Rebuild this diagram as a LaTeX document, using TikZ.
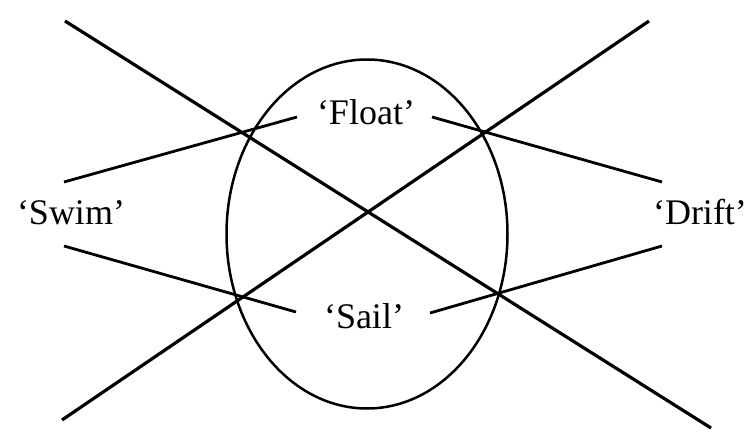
\documentclass[tikz,border=0pt]{standalone}
\usepackage{fontspec}
\setmainfont{Liberation Serif}
\usetikzlibrary{shapes.geometric}
\begin{document}
\begin{tikzpicture}[x=1pt,y=-1pt,
  longline/.style={line width=3.2pt},
  shortline/.style={line width=2.8pt},
  ringline/.style={line width=2.5pt},
  lbl/.style={anchor=base,inner sep=0pt,font=\fontsize{36}{40}\selectfont}]
\useasboundingbox (0,0) rectangle (753,433);
% labels
\node[lbl] (float) at (366,125) {‘Float’};
\node[lbl] (sail) at (364,328) {‘Sail’};
\node[lbl] (swim) at (71,225) {‘Swim’};
\node[lbl] (drift) at (700,225) {‘Drift’};
% ellipse
\node[draw,ringline,ellipse,minimum width=281pt,minimum height=349pt,inner sep=0pt] (ring) at (367,234) {};
% long crossing lines
\coordinate (a1) at (65,21);
\coordinate (a2) at (711,428);
\coordinate (b1) at (62,420);
\coordinate (b2) at (649,21);
\draw[longline] (a1) -- (a2);
\draw[longline] (b1) -- (b2);
% short lines
\coordinate (fl1) at (64,182);
\coordinate (fl2) at (297,117);
\coordinate (fr1) at (432,117);
\coordinate (fr2) at (662,182);
\coordinate (sl1) at (64,246);
\coordinate (sl2) at (296,312);
\coordinate (sr1) at (430,313);
\coordinate (sr2) at (662,246);
\draw[shortline] (fl1) -- (fl2);
\draw[shortline] (fr1) -- (fr2);
\draw[shortline] (sl1) -- (sl2);
\draw[shortline] (sr1) -- (sr2);
\end{tikzpicture}
\end{document}
